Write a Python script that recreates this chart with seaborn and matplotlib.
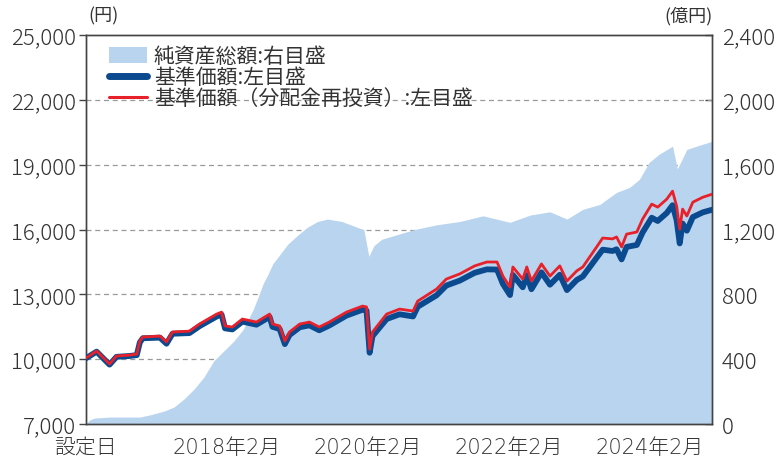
import numpy as np
import pandas as pd
import matplotlib.pyplot as plt
from matplotlib.patches import Patch
from matplotlib.lines import Line2D
from matplotlib.ticker import FuncFormatter
import seaborn as sns

# %% data
nav_dates = ['2016-02-01', '2016-03-28', '2016-06-03', '2016-07-09', '2016-09-15', '2016-10-22',
             '2016-11-07', '2016-11-22', '2017-02-19', '2017-03-25', '2017-04-25', '2017-07-22',
             '2017-09-12', '2017-12-10', '2018-01-04', '2018-01-22', '2018-03-01', '2018-04-22',
             '2018-07-04', '2018-09-10', '2018-09-25', '2018-11-01', '2018-11-28', '2018-12-22',
             '2019-02-13', '2019-04-04', '2019-05-25', '2019-07-16', '2019-10-13', '2020-01-04',
             '2020-01-25', '2020-02-10', '2020-02-25', '2020-05-08', '2020-07-14', '2020-09-22',
             '2020-10-16', '2021-01-22', '2021-03-13', '2021-05-22', '2021-08-07', '2021-10-09',
             '2021-12-01', '2021-12-31', '2022-02-06', '2022-02-21', '2022-04-13', '2022-05-04',
             '2022-05-28', '2022-07-19', '2022-09-01', '2022-10-22', '2022-11-28', '2023-01-18',
             '2023-02-18', '2023-05-01', '2023-06-01', '2023-07-22', '2023-08-12', '2023-09-07',
             '2023-10-03', '2023-11-25', '2023-12-25', '2024-02-10', '2024-03-12', '2024-04-28',
             '2024-05-28', '2024-06-18', '2024-07-04', '2024-07-19', '2024-08-10', '2024-09-10',
             '2024-11-01', '2024-12-19']
nav_reinv = [10050, 10380, 9780, 10150, 10190, 10240,
             10840, 11030, 11070, 10800, 11260, 11300,
             11630, 12090, 12180, 11540, 11490, 11860,
             11720, 12090, 11630, 11540, 10840, 11260,
             11630, 11720, 11490, 11720, 12180, 12460,
             12420, 10470, 11260, 12090, 12320, 12230,
             12690, 13250, 13710, 13950, 14320, 14500,
             14500, 13850, 13340, 14270, 13710, 14270,
             13620, 14410, 13850, 14320, 13620, 14090,
             14270, 15200, 15610, 15570, 15660, 15200,
             15790, 15890, 16490, 17180, 17040, 17410,
             17780, 17090, 16020, 16950, 16630, 17270,
             17500, 17640]
nav = [10040, 10350, 9750, 10110, 10150, 10190,
       10780, 10970, 11000, 10720, 11180, 11210,
       11530, 11980, 12070, 11430, 11380, 11740,
       11600, 11960, 11500, 11400, 10700, 11120,
       11480, 11570, 11340, 11560, 12020, 12290,
       12250, 10300, 11070, 11860, 12080, 11980,
       12430, 12960, 13410, 13640, 14000, 14160,
       14150, 13490, 12970, 13900, 13330, 13890,
       13240, 14020, 13450, 13910, 13200, 13670,
       13830, 14700, 15070, 15010, 15090, 14620,
       15200, 15290, 15870, 16550, 16400, 16770,
       17130, 16440, 15360, 16280, 15950, 16580,
       16800, 16920]

aum_dates = ['2016-02-01', '2016-02-21', '2016-03-18', '2016-06-03', '2016-11-07', '2016-12-28',
             '2017-03-13', '2017-05-03', '2017-06-24', '2017-08-14', '2017-10-05', '2017-11-25',
             '2018-01-15', '2018-03-07', '2018-04-27', '2018-06-18', '2018-07-13', '2018-08-07',
             '2018-09-02', '2018-09-27', '2018-10-23', '2018-12-13', '2019-02-02', '2019-03-25',
             '2019-05-16', '2019-07-06', '2019-09-20', '2019-12-06', '2020-01-11', '2020-02-06',
             '2020-03-03', '2020-04-12', '2020-09-27', '2021-01-24', '2021-05-22', '2021-09-19',
             '2022-02-06', '2022-05-22', '2022-09-01', '2022-11-28', '2023-02-18', '2023-05-17',
             '2023-08-12', '2023-10-18', '2023-12-08', '2024-01-28', '2024-03-19', '2024-05-28',
             '2024-06-22', '2024-08-10', '2024-10-12', '2024-12-19']
aum = [0, 25, 37, 43, 43, 56,
       80, 105, 155, 215, 290, 390,
       450, 510, 585, 710, 785, 865,
       925, 990, 1030, 1110, 1165, 1215,
       1250, 1265, 1250, 1215, 1200, 1035,
       1100, 1140, 1200, 1230, 1250, 1285,
       1245, 1290, 1310, 1265, 1325, 1355,
       1430, 1460, 1510, 1615, 1665, 1715,
       1575, 1695, 1720, 1745]

xtick_dates = ['2016-02-01', '2018-02-01', '2020-02-01', '2022-02-01', '2024-02-01']
xtick_labels = ['設定日', '2018年2月', '2020年2月', '2022年2月', '2024年2月']

df_nav = pd.DataFrame({'date': pd.to_datetime(nav_dates), 'nav': nav, 'nav_reinv': nav_reinv})
df_aum = pd.DataFrame({'date': pd.to_datetime(aum_dates), 'aum': aum})

# %% style
sns.set_style('white')
plt.rcParams['font.family'] = ['Noto Sans CJK JP', 'DejaVu Sans']
txt_col = '#333333'
fill_col = '#b9d4ee'
navy = '#0b4a8f'
red = '#e8202a'

fig = plt.figure(figsize=(7.8, 4.64), dpi=100)
ax2 = fig.add_axes([0.110, 0.084, 0.803, 0.838])
ax = ax2.twinx()
# left-scale axis in front, transparent
ax.set_zorder(ax2.get_zorder() + 1)
ax.patch.set_visible(False)
ax.yaxis.tick_left()
ax.yaxis.set_label_position('left')
ax2.yaxis.tick_right()
ax2.yaxis.set_label_position('right')

# net assets area (right axis) with grid behind it
ax2.fill_between(df_aum['date'], 0, df_aum['aum'], color=fill_col, lw=0, zorder=2)
ax2.set_ylim(0, 2400)
ax2.set_yticks(np.arange(0, 2401, 400))
ax2.yaxis.set_major_formatter(FuncFormatter(lambda v, p: '{:,.0f}'.format(v)))
for g in np.arange(400, 2001, 400):
    ax2.axhline(g, color='#9a9a9a', lw=0.9, ls=(0, (4, 3)), zorder=1)

# NAV lines (left axis)
sns.lineplot(data=df_nav, x='date', y='nav', ax=ax, color=navy, lw=4.2,
             solid_capstyle='round', solid_joinstyle='round', zorder=3)
sns.lineplot(data=df_nav, x='date', y='nav_reinv', ax=ax, color=red, lw=2.0,
             solid_joinstyle='round', zorder=4)
ax.set_ylim(7000, 25000)
ax.set_yticks(np.arange(7000, 25001, 3000))
ax.yaxis.set_major_formatter(FuncFormatter(lambda v, p: '{:,.0f}'.format(v)))
ax.set_xlabel('')
ax.set_ylabel('')
ax2.set_ylabel('')

x0, x1 = pd.Timestamp('2016-02-01'), pd.Timestamp('2024-12-19')
ax.set_xlim(x0, x1)
ax2.set_xlim(x0, x1)
ax2.set_xticks(pd.to_datetime(xtick_dates))
ax2.set_xticklabels(xtick_labels, family=['DejaVu Sans', 'Noto Sans CJK JP'])
ax.set_xticks(pd.to_datetime(xtick_dates))
ax.tick_params(axis='x', bottom=False, labelbottom=False)

for a in (ax, ax2):
    for s in a.spines.values():
        s.set_color('#444444')
        s.set_linewidth(1.0)
ax.tick_params(axis='y', direction='out', length=5, width=1, color='#444444',
               labelsize=16, labelcolor=txt_col, pad=2)
ax2.tick_params(axis='y', direction='in', length=5, width=1, color='#444444',
                labelsize=16, labelcolor=txt_col, pad=7)
ax2.tick_params(axis='x', direction='in', length=7, width=1, color='#444444',
                labelsize=15, labelcolor=txt_col, pad=9)
for lab in ax.get_yticklabels() + ax2.get_yticklabels() + ax2.get_xticklabels():
    lab.set_fontweight('light')

# unit labels
fig.text(0.113, 0.945, '(円)', ha='left', va='bottom', fontsize=13, color=txt_col)
fig.text(0.913, 0.945, '(億円)', ha='right', va='bottom', fontsize=13, color=txt_col)

handles = [Patch(facecolor=fill_col, edgecolor='none'),
           Line2D([], [], color=navy, lw=5, solid_capstyle='round'),
           Line2D([], [], color=red, lw=2.2)]
labels = ['純資産総額:右目盛', '基準価額:左目盛', '基準価額（分配金再投資）:左目盛']
ax.legend(handles, labels, loc='upper left', bbox_to_anchor=(0.024, 0.995), frameon=False,
          fontsize=15, handlelength=1.8, handleheight=0.8, handletextpad=0.35,
          labelspacing=-0.05, borderaxespad=0, labelcolor=txt_col)

plt.savefig('out.png', dpi=100)
